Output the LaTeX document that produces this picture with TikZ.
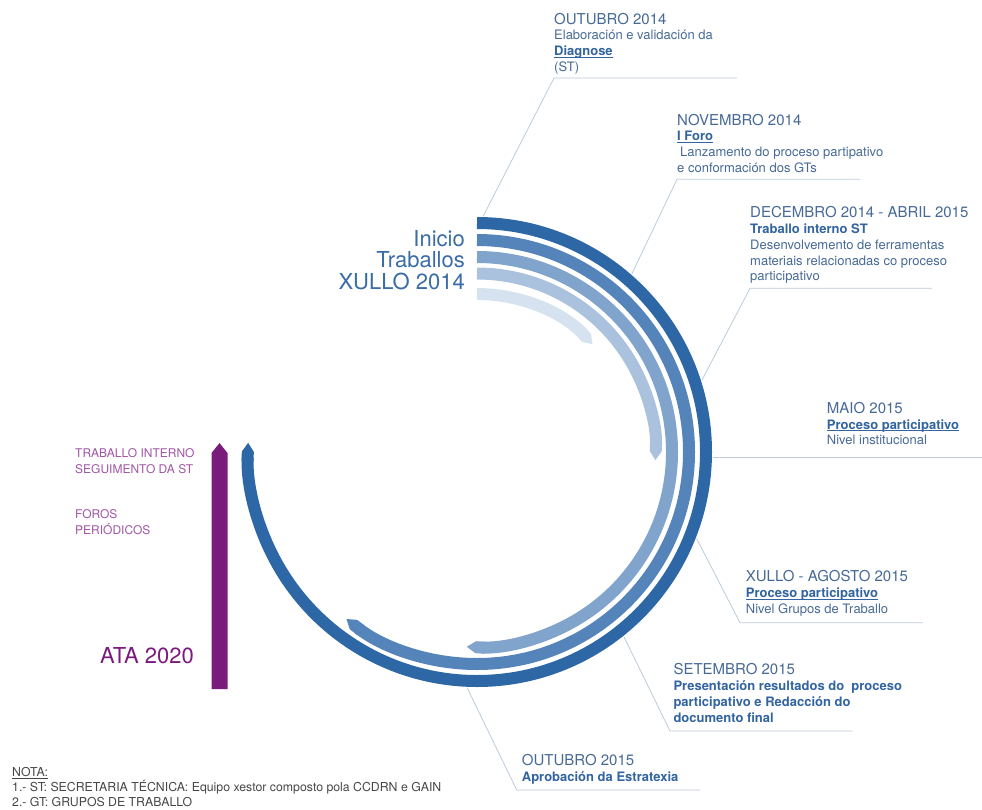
\documentclass[tikz,border=0pt]{standalone}
\usepackage{fontspec}
\setmainfont{TeX Gyre Heros}
\usetikzlibrary{arrows.meta}
\definecolor{bandA}{RGB}{45,103,165}
\definecolor{bandB}{RGB}{84,132,186}
\definecolor{bandC}{RGB}{128,164,203}
\definecolor{bandD}{RGB}{170,194,221}
\definecolor{bandE}{RGB}{214,226,239}
\definecolor{headblue}{RGB}{70,105,150}
\definecolor{boldblue}{RGB}{50,100,160}
\definecolor{startblue}{RGB}{58,108,168}
\definecolor{rulegray}{RGB}{190,202,216}
\definecolor{ataviolet}{RGB}{122,26,124}
\definecolor{lightviolet}{RGB}{160,85,165}
\definecolor{notegray}{RGB}{70,70,70}
\newcommand\when[1]{{\fontsize{15}{15.8}\selectfont #1}}
\newcommand\hi[1]{\textcolor{boldblue}{\textbf{#1}}}
\newcommand\ulhi[1]{\textcolor{boldblue}{\setbox0\hbox{\textbf{#1}}\rlap{\rule[-2pt]{\wd0}{0.8pt}}\box0}}
\newcommand\dpfix[1]{\rule[-#1]{0pt}{#1}}

\begin{document}
\begin{tikzpicture}[x=1pt,y=-1pt]
\tikzstyle{band}=[line width=12pt, -{Triangle Cap[cap angle=68]}]
\tikzstyle{leader}=[draw=rulegray, line width=0.8pt]
\tikzstyle{stage}=[anchor=south west, inner sep=0pt, align=left, text=headblue, font=\fontsize{13}{15.8}\selectfont]
\tikzstyle{side}=[anchor=south west, inner sep=0pt, align=left, text=lightviolet, font=\fontsize{12}{16.3}\selectfont]
\useasboundingbox (0,0) rectangle (982,809);
\coordinate (c) at (477,452);
\draw[band, bandA] ([shift={(-90:229)}]c) arc[start angle=-90, end angle=182.3, radius=229];
\draw[band, bandB] ([shift={(-90:212)}]c) arc[start angle=-90, end angle=128, radius=212];
\draw[band, bandC] ([shift={(-90:195)}]c) arc[start angle=-90, end angle=93, radius=195];
\draw[band, bandD] ([shift={(-90:178.5)}]c) arc[start angle=-90, end angle=2.6, radius=178.5];
\draw[band, bandE] ([shift={(-90:158)}]c) arc[start angle=-90, end angle=-43, radius=158];
\fill[ataviolet] (211.5,689) -- (211.5,453) -- (219.5,443) -- (227.5,453) -- (227.5,689) -- cycle;
\coordinate (t1) at ([shift={(-88.5:236)}]c);
\coordinate (t2) at ([shift={(-49:236)}]c);
\coordinate (t3) at ([shift={(-17.7:236)}]c);
\coordinate (t4) at ([shift={(1.2:236)}]c);
\coordinate (t5) at ([shift={(21.5:236)}]c);
\coordinate (t6) at ([shift={(51.5:236)}]c);
\coordinate (t7) at ([shift={(92.4:236)}]c);
\coordinate (r1) at (737,78);
\coordinate (r2) at (860,179.3);
\coordinate (r3) at (932,288.3);
\coordinate (r4) at (982,457.3);
\coordinate (r5) at (923,622.7);
\coordinate (r6) at (852.7,731);
\coordinate (r7) at (700,790);
\node[stage] (oct14) at (554,78) {\when{OUTUBRO 2014}\\Elaboración e validación da\\\ulhi{Diagnose}\\(ST)\dpfix{6.3pt}};
\node[stage] (nov14) at (677,179.3) {\when{NOVEMBRO 2014}\\\ulhi{I Foro}\\\hspace*{3pt}Lanzamento do proceso partipativo\\e conformación dos GTs\dpfix{6.6pt}};
\node[stage] (dec14) at (750,288.3) {\when{DECEMBRO 2014 - ABRIL 2015}\\\hi{Traballo interno ST}\\Desenvolvemento de ferramentas\\materiais relacionadas co proceso\\participativo\dpfix{7.3pt}};
\node[stage] (may15) at (826.7,457.3) {\when{MAIO 2015}\\\ulhi{Proceso participativo}\\Nivel institucional\dpfix{12.3pt}};
\node[stage] (jul15) at (745.7,622.7) {\when{XULLO - AGOSTO 2015}\\\ulhi{Proceso participativo}\\Nivel Grupos de Traballo\dpfix{9.4pt}};
\node[stage] (sep15) at (673.3,731) {\when{SETEMBRO 2015}\\\hi{Presentación resultados do \ proceso}\\\hi{participativo e Redacción do}\\\hi{documento final}\dpfix{8.7pt}};
\node[stage] (oct15) at (521.7,790) {\when{OUTUBRO 2015}\\\hi{Aprobación da Estratexia}\dpfix{8.3pt}};
\draw[leader] (t1) -- (oct14.south west) -- (r1);
\draw[leader] (t2) -- (nov14.south west) -- (r2);
\draw[leader] (t3) -- (dec14.south west) -- (r3);
\draw[leader] (t4 |- may15.south west) -- (r4);
\draw[leader] (t5) -- ([xshift=-5.7pt]jul15.south west) -- (r5);
\draw[leader] (t6) -- ([xshift=-3.3pt]sep15.south west) -- (r6);
\draw[leader] (t7) -- ([xshift=-5pt]oct15.south west) -- (r7);
\node[anchor=south east, inner sep=0pt, align=right, text=startblue, font=\fontsize{22}{21.5}\selectfont] (start) at (465,290) {Inicio\\Traballos\\XULLO 2014};
\node[side] (seg) at (75,474.3) {TRABALLO INTERNO\\SEGUIMENTO DA ST};
\node[side] (foros) at (75,535) {FOROS\\PERIÓDICOS};
\node[anchor=base west, inner sep=0pt, text=ataviolet, font=\fontsize{22}{24}\selectfont] (ata) at (100,663.3) {ATA 2020};
\node[anchor=south west, inner sep=0pt, align=left, text=notegray, font=\fontsize{12.3}{14.8}\selectfont] (nota) at (12,806.7) {\underline{NOTA:}\\1.- ST: SECRETARIA TÉCNICA: Equipo xestor composto pola CCDRN e GAIN\\2.- GT: GRUPOS DE TRABALLO};
\end{tikzpicture}
\end{document}
